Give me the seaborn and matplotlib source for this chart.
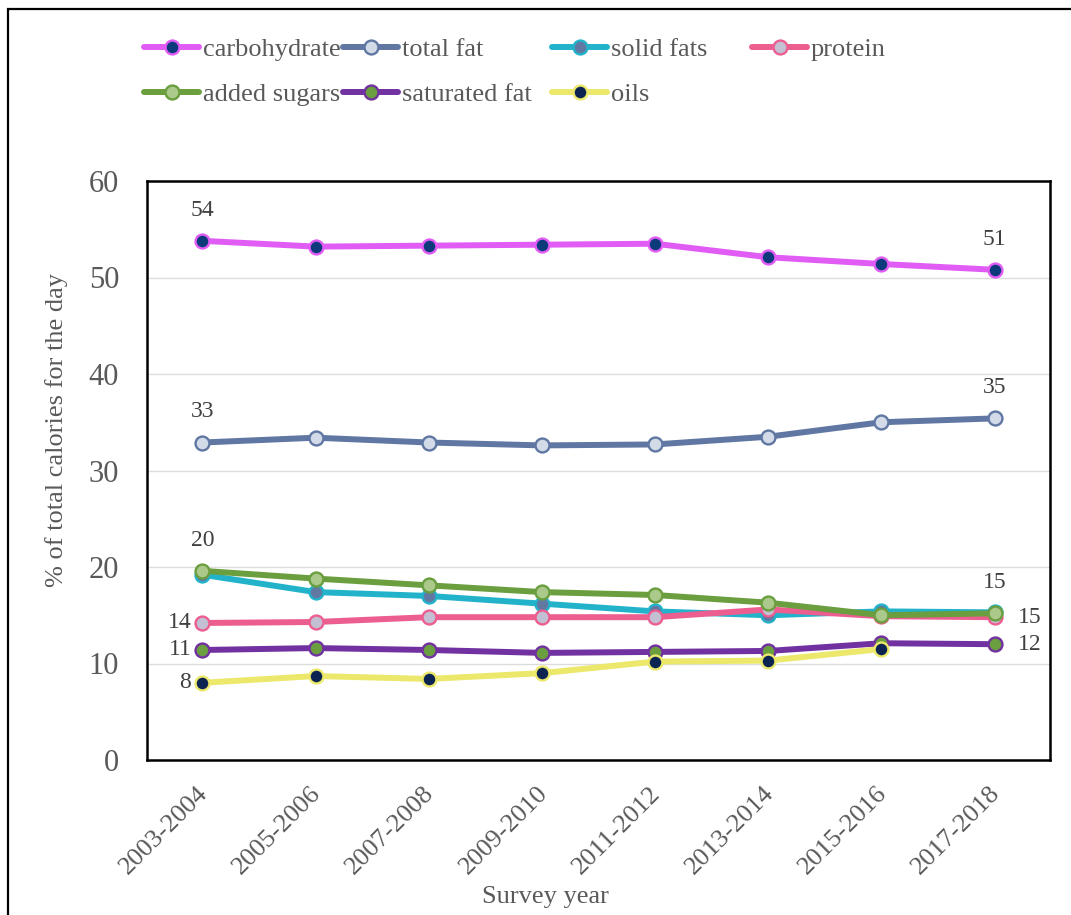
import numpy as np
import pandas as pd
import matplotlib
matplotlib.use("Agg")
import matplotlib.pyplot as plt
from matplotlib.patches import Rectangle
from matplotlib.lines import Line2D
from matplotlib.transforms import ScaledTranslation
import seaborn as sns

# Survey cycles
years = ["2003-2004", "2005-2006", "2007-2008", "2009-2010",
         "2011-2012", "2013-2014", "2015-2016", "2017-2018"]

# Percent of total calories for the day, by nutrient
carbohydrate = [53.8, 53.2, 53.3, 53.4, 53.5, 52.1, 51.4, 50.8]
total_fat = [32.9, 33.4, 32.9, 32.6, 32.7, 33.5, 35.0, 35.4]
solid_fats = [19.2, 17.4, 17.0, 16.2, 15.4, 15.0, 15.4, 15.3]
protein = [14.2, 14.3, 14.8, 14.8, 14.8, 15.6, 14.9, 14.8]
added_sugars = [19.6, 18.8, 18.1, 17.4, 17.1, 16.3, 15.0, 15.2]
saturated_fat = [11.4, 11.6, 11.4, 11.1, 11.2, 11.3, 12.1, 12.0]
oils = [8.0, 8.7, 8.4, 9.0, 10.2, 10.3, 11.5, np.nan]

series_names = ["carbohydrate", "total fat", "solid fats", "protein",
                "added sugars", "saturated fat", "oils"]
series_values = [carbohydrate, total_fat, solid_fats, protein,
                 added_sugars, saturated_fat, oils]

# line colour, marker face, marker edge
styles = {
    "carbohydrate": ("#e05cf5", "#0c3a7a", "#e05cf5"),
    "total fat": ("#5f77a2", "#d3dae8", "#5f77a2"),
    "solid fats": ("#22b3cb", "#6178a2", "#22b3cb"),
    "protein": ("#ec5d90", "#c2c0d2", "#ec5d90"),
    "added sugars": ("#6a9e3e", "#aac98b", "#6a9e3e"),
    "saturated fat": ("#7231a0", "#6a9e3e", "#7231a0"),
    "oils": ("#ebe86b", "#0b2350", "#ebe86b"),
}

sns.set_theme(style="white")
plt.rcParams["font.family"] = ["Liberation Serif", "DejaVu Serif"]

fig = plt.figure(figsize=(10.71, 9.15), dpi=100)
ax = fig.add_axes([147 / 1071, 1 - 760 / 915, (1050 - 147) / 1071, (760 - 181) / 915])

LW = 4.3
MS = 10
MEW = 1.7
for name, vals in zip(series_names, series_values):
    line_c, face_c, edge_c = styles[name]
    df = pd.DataFrame({"year": years, "value": vals})
    sns.lineplot(data=df, x="year", y="value", ax=ax, color=line_c, linewidth=LW,
                 marker="o", markersize=MS, markerfacecolor=face_c,
                 markeredgecolor=edge_c, markeredgewidth=MEW, sort=False)

ax.set_xlim(-0.49, 7.49)
ax.set_ylim(0, 60)
ax.set_yticks(np.arange(0, 61, 10))
ax.yaxis.grid(True, color="#dcdcdc", linewidth=1.0)
ax.set_axisbelow(True)
for sp in ax.spines.values():
    sp.set_color("black")
    sp.set_linewidth(1.8)

ax.tick_params(axis="y", length=0, pad=20, labelsize=22, labelcolor="#595959")
ax.tick_params(axis="x", length=0, pad=16, labelsize=19, labelcolor="#595959")
shift = ScaledTranslation(-4 / 72, 0, fig.dpi_scale_trans)
for lab in ax.get_xticklabels():
    lab.set_rotation(45)
    lab.set_ha("right")
    lab.set_rotation_mode("anchor")
    lab.set_transform(lab.get_transform() + shift)

ax.set_xlabel("Survey year", fontsize=19, color="#595959")
ax.set_ylabel("% of total calories for the day", fontsize=19, color="#595959")
ax.xaxis.set_label_coords(0.441, -0.218)
ax.yaxis.set_label_coords(-0.088, 0.57)

# value labels
lab_kw = dict(fontsize=17, color="#404040", textcoords="offset points")

def label(series, i, where):
    v = series[i]
    txt = f"{v:.0f}"
    if where == "above":
        ax.annotate(txt, (i, v), xytext=(0, 22), ha="center", va="center", **lab_kw)
    elif where == "left":
        ax.annotate(txt, (i, v), xytext=(-8, 0), ha="right", va="center", **lab_kw)
    else:
        ax.annotate(txt, (i, v), xytext=(17, 0), ha="left", va="center", **lab_kw)

label(carbohydrate, 0, "above")
label(carbohydrate, 7, "above")
label(total_fat, 0, "above")
label(total_fat, 7, "above")
label(added_sugars, 0, "above")
label(added_sugars, 7, "above")
label(protein, 0, "left")
label(protein, 7, "right")
label(saturated_fat, 0, "left")
label(saturated_fat, 7, "right")
label(oils, 0, "left")

# legend, laid out as evenly spaced columns
def handle(name):
    line_c, face_c, edge_c = styles[name]
    return Line2D([], [], color=line_c, linewidth=LW, marker="o", markersize=MS,
                  markerfacecolor=face_c, markeredgecolor=edge_c, markeredgewidth=MEW)

columns = [["carbohydrate", "added sugars"], ["total fat", "saturated fat"],
           ["solid fats", "oils"], ["protein"]]
col_x = [144, 343, 552, 752]
for cx, names in zip(col_x, columns):
    leg = fig.legend([handle(n) for n in names], names, loc="upper left",
                     bbox_to_anchor=(cx / 1071, 1 - 38 / 915), frameon=False,
                     fontsize=19, handlelength=2.1, handletextpad=0.12,
                     labelspacing=0.8, borderaxespad=0, borderpad=0)
    for t in leg.get_texts():
        t.set_color("#595959")

# outer frame of the chart area
fig.add_artist(Rectangle((8 / 1071, -0.05), 1.2, 1 - 9 / 915 + 0.05,
                         transform=fig.transFigure, fill=False,
                         edgecolor="black", linewidth=1.6))

fig.savefig("out.png", dpi=100)
